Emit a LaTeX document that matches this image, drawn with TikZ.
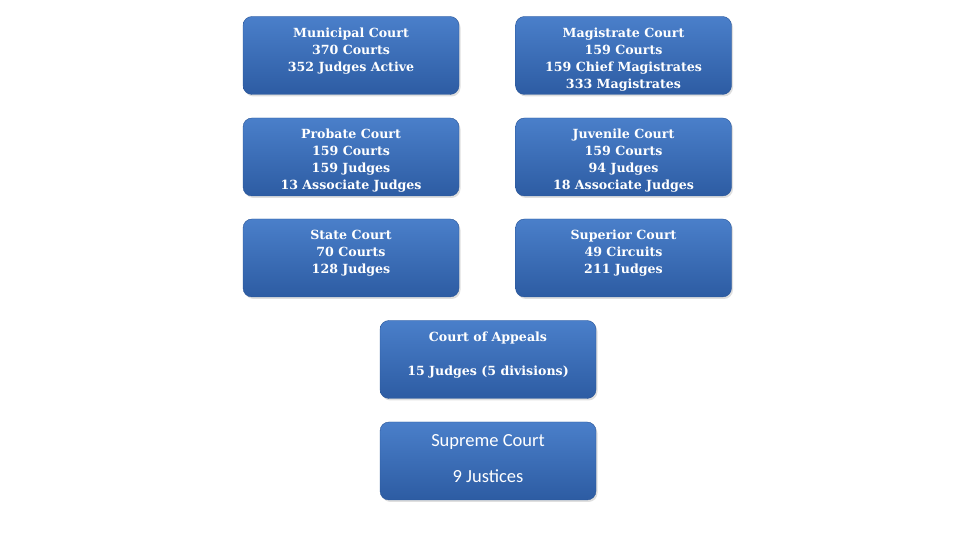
\documentclass[tikz,border=0pt]{standalone}
\usepackage{fontspec}
\setmainfont{DejaVu Serif}
\newfontfamily\calib{Carlito}
\usetikzlibrary{positioning,shadows}
\definecolor{courttop}{HTML}{4A7FCA}
\definecolor{courtbot}{HTML}{2D5CA3}
\definecolor{courtedge}{HTML}{2A5698}
\tikzset{
  courtbox/.style  = {rounded corners=9pt, draw=courtedge, top color=courttop, bottom color=courtbot,
                      minimum width=216pt, minimum height=78pt, inner sep=0pt,
                      drop shadow={shadow xshift=1.5pt, shadow yshift=-2pt, opacity=0.25}},
  courttext/.style = {text=white, align=center, inner sep=0pt, anchor=north,
                      font=\fontsize{12.6}{17}\selectfont\bfseries},
}
\begin{document}
\begin{tikzpicture}[x=1pt,y=1pt]
  \useasboundingbox (0,0) rectangle (960,540);
  % trial courts
  \node[courtbox] (muni) at (351,484.5) {};
  \node[courttext,below=11pt of muni.north] (muni-t) {Municipal Court\\370 Courts\\352 Judges Active};
  \node[courtbox] (magi) at (623.5,484.5) {};
  \node[courttext,below=11pt of magi.north] (magi-t) {Magistrate Court\\159 Courts\\159 Chief Magistrates\\333 Magistrates};
  \node[courtbox] (prob) at (351,383) {};
  \node[courttext,below=11pt of prob.north] (prob-t) {Probate Court\\159 Courts\\159 Judges\\13 Associate Judges};
  \node[courtbox] (juve) at (623.5,383) {};
  \node[courttext,below=11pt of juve.north] (juve-t) {Juvenile Court\\159 Courts\\94 Judges\\18 Associate Judges};
  \node[courtbox] (stat) at (351,282) {};
  \node[courttext,below=11pt of stat.north] (stat-t) {State Court\\70 Courts\\128 Judges};
  \node[courtbox] (supe) at (623.5,282) {};
  \node[courttext,below=11pt of supe.north] (supe-t) {Superior Court\\49 Circuits\\211 Judges};
  % appellate courts
  \node[courtbox] (appe) at (488,180.5) {};
  \node[courttext,below=11pt of appe.north] (appe-t) {Court of Appeals\\[17pt]15 Judges (5 divisions)};
  \node[courtbox] (supr) at (488,79) {};
  \node[courttext,below=12pt of supr.north,font=\fontsize{18.5}{18}\selectfont\calib] (supr-t) {Supreme Court\\[18pt]9 Justices};
\end{tikzpicture}
\end{document}
